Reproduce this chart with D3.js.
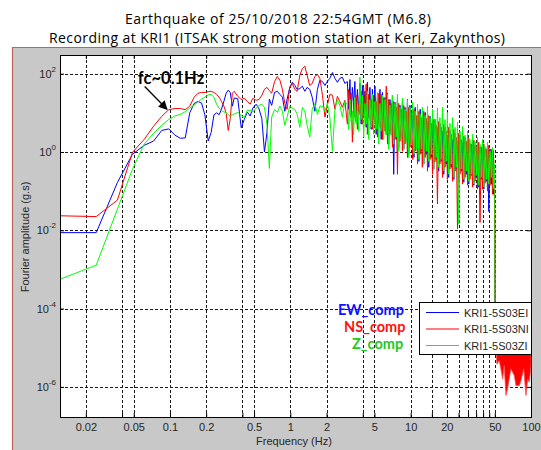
<!DOCTYPE html>
<html>
<head>
<meta charset="utf-8">
<script src="https://cdn.jsdelivr.net/npm/d3@7"></script>
<style>
body { margin: 0; background: #fff; }
svg { display: block; }
</style>
</head>
<body>
<script>
// frequency bins (Hz) shared by the three components
var freq = [0.0122, 0.0244, 0.0366, 0.0488, 0.061, 0.0732, 0.0854, 0.0977, 0.110, 0.122,
    0.134, 0.146, 0.159, 0.171, 0.183, 0.195, 0.208, 0.220, 0.232, 0.244,
    0.256, 0.268, 0.281, 0.293, 0.305, 0.317, 0.330, 0.342, 0.366, 0.391,
    0.415, 0.439, 0.464, 0.488, 0.52, 0.55, 0.58, 0.61, 0.64, 0.67,
    0.70, 0.74, 0.78, 0.82, 0.86, 0.90, 0.94, 0.99, 1.04, 1.09,
    1.14, 1.20, 1.26, 1.32, 1.38, 1.45, 1.52, 1.60, 1.68, 1.76,
    1.85, 1.94, 2.03, 2.13, 2.24, 2.35, 2.46, 2.58, 2.71, 2.84,
    2.98, 3.13, 3.28, 3.44, 3.61, 3.79, 3.97, 4.17, 4.37, 4.59,
    4.81, 5.05, 5.30, 5.56, 5.83, 6.12, 6.42, 6.73, 7.06, 7.41,
    7.77, 8.15, 8.55, 8.97, 9.41, 9.87, 10.4, 10.9, 11.4, 12.0,
    12.5, 13.2, 13.8, 14.5, 15.2, 15.9, 16.7, 17.5, 18.4, 19.3,
    20.2, 21.2, 22.3, 23.4, 24.5, 25.7, 27.0, 28.3, 29.7, 31.1,
    32.7, 34.3, 35.9, 37.7, 39.6, 41.5, 43.5, 45.7, 47.9, 49.5,
    50.0, 50.3];

// log10 of Fourier amplitude (g.s) at those bins
var ewLog = [-2.06, -2.06, -0.78, -0.06, 0.17, 0.28, 0.55, 0.59, 0.43, 0.35,
    0.36, 1.00, 1.24, 1.29, 1.25, 0.95, 0.28, 0.50, 0.95, 1.00,
    0.95, 1.09, 1.30, 1.50, 1.58, 1.52, 1.17, 1.38, 1.36, 0.62,
    0.83, 1.02, 0.92, 1.12, 1.22, 1.10, 0.85, 0.00, 0.50, 1.35,
    1.19, 1.52, 1.55, 1.47, 1.40, 1.04, 1.34, 1.65, 1.78, 1.70,
    1.60, 1.62, 1.68, 1.55, 1.65, 1.60, 1.40, 1.04, 1.60, 1.83,
    1.80, 1.70, 1.80, 1.88, 2.03, 1.88, 1.78, 1.88, 1.91, 1.75,
    1.80, 1.85, 1.65, 1.80, 1.60, 1.75, 1.70, 1.55, 1.78, 1.65,
    1.60, 1.68, 1.47, 1.60, 1.52, 1.39, 1.50, 1.34, 1.45, 1.27,
    1.34, 1.19, 1.32, 1.14, 1.34, 1.19, 1.04, 1.14, 0.93, 1.09,
    0.88, 1.01, 0.78, 0.91, 0.73, 0.83, 0.63, 0.73, 0.53, 0.63,
    0.43, 0.55, 0.32, 0.48, 0.27, 0.43, 0.25, 0.37, 0.40, 0.22,
    0.32, 0.17, 0.27, 0.14, 0.25, 0.09, 0.17, 0.07, -0.01, -0.31,
    -2.05, -4.65];

var nsLog = [-1.63, -1.65, -1.23, -0.01, 0.32, 0.66, 0.91, 1.08, 1.11, 1.11,
    1.08, 1.17, 1.40, 1.50, 1.52, 1.52, 1.54, 1.55, 1.52, 1.47,
    1.40, 1.29, 1.17, 0.99, 0.55, 0.85, 1.50, 1.55, 1.42, 1.34,
    1.37, 1.29, 1.22, 1.37, 1.32, 1.34, 1.45, 1.60, 1.65, 1.57,
    1.50, 1.80, 1.93, 1.83, 1.60, 1.24, 1.09, 1.65, 1.75, 1.60,
    1.55, 1.96, 2.13, 2.19, 1.96, 1.70, 1.75, 1.93, 1.98, 1.88,
    1.45, 0.89, 1.19, 1.47, 1.45, 1.09, 1.42, 1.29, 1.14, 1.32,
    0.71, 0.96, 0.25, 0.88, 0.58, 0.96, 0.71, 0.88, 0.45, 0.83,
    0.58, 0.71, 0.38, 0.63, 0.32, 0.53, 0.20, 0.45, 0.12, 0.32,
    -0.57, 0.27, 0.02, 0.20, -0.14, 0.12, -0.19, 0.02, -0.31, -0.06,
    -0.39, -0.14, -0.49, -0.19, -0.57, -0.26, -1.33, -0.31, -0.65, -0.39,
    -0.70, -0.44, -0.75, -0.49, -1.97, -0.57, -0.82, -0.65, -0.85, -0.70,
    -0.90, -0.75, -0.95, -1.80, -0.95, -0.80, -1.00, -0.85, -1.08, -0.57,
    -2.41, -4.65];

var zLog = [-3.25, -2.89, -1.46, -0.44, 0.20, 0.48, 0.68, 0.83, 0.92, 0.96,
    1.03, 1.12, 1.20, 1.28, 1.35, 1.40, 1.46, 1.47, 1.40, 1.22,
    1.12, 1.06, 1.02, 1.01, 0.95, 0.92, 0.95, 0.97, 1.01, 0.93,
    0.88, 1.07, 1.06, 1.02, 1.12, 1.19, 1.22, 1.14, 0.70, -0.42,
    0.89, 1.09, 1.01, 1.17, 1.04, 0.68, 0.89, 1.17, 1.11, 1.09,
    0.96, 0.63, 1.14, 1.04, 0.68, 0.38, 1.09, 1.24, 0.96, 1.17,
    1.17, 1.04, 1.24, 0.89, 0.02, 1.09, 1.34, 1.19, 0.89, 1.29,
    1.22, 1.34, 1.04, 1.39, 1.14, 1.91, 1.45, 1.24, 1.55, 1.34,
    1.47, 1.29, 1.52, 1.24, 1.45, 1.34, 1.47, 1.19, 1.45, 1.24,
    1.47, 1.14, 1.37, 1.09, 1.32, 1.14, 1.27, 1.04, 1.22, 0.96,
    1.14, 0.93, 1.17, 0.88, 1.09, 0.83, 1.12, 0.88, 1.14, 0.83,
    1.01, 0.73, 0.88, 0.63, 0.76, 0.53, 0.65, 0.43, 0.53, 0.32,
    0.45, 0.27, 0.37, 0.20, 0.32, 0.14, 0.25, 0.02, 0.12, -0.31,
    -0.95, -4.52];

// extra bins between 3 and 49 Hz, where the spectra swing between peaks and troughs
var freqMid = [3.05, 3.20, 3.36, 3.52, 3.70, 3.88, 4.07, 4.27, 4.48, 4.70,
    4.93, 5.17, 5.43, 5.69, 5.97, 6.27, 6.57, 6.89, 7.23, 7.59,
    7.96, 8.35, 8.76, 9.19, 9.64, 10.1, 10.65, 11.15, 11.7, 12.25,
    12.85, 13.5, 14.15, 14.85, 15.55, 16.3, 17.1, 17.95, 18.85, 19.75,
    20.7, 21.75, 22.85, 23.95, 25.1, 26.35, 27.65, 29.0, 30.4, 31.9,
    33.5, 35.1, 36.8, 38.65, 40.55, 42.5, 44.6, 46.8, 48.7];

var ewMidLog = [1.09, 0.88, 1.22, 0.78, 1.04, 0.71, 0.96, 0.63, 0.88, 0.58,
    0.83, 0.45, 0.71, 0.32, 0.63, 0.45, 0.20, 0.53, -0.57, 0.32,
    0.12, 0.38, 0.07, 0.27, -0.06, 0.20, -0.14, 0.07, -0.24, 0.02,
    -0.31, -0.06, -0.39, -0.14, -0.44, -0.19, -0.49, -0.24, -0.57, -0.31,
    -0.65, -0.39, -0.70, -0.44, -0.75, -0.49, -0.77, -0.57, -0.82, -0.60,
    -0.85, -0.65, -0.90, -0.70, -0.95, -0.75, -1.52, -0.82, -1.08];

var nsMidLog = [1.60, 1.50, 1.34, 1.45, 1.22, 1.55, 1.65, 1.73, 1.47, 1.34,
    1.45, 1.29, 1.50, 1.47, 1.39, 1.68, 1.34, 1.24, 1.29, 1.14,
    1.24, 1.09, 1.19, 1.04, 1.14, 0.99, 1.09, 0.93, 1.04, 0.88,
    1.04, 0.86, 0.93, 0.73, 0.83, 0.68, 0.78, 0.63, 0.71, 0.53,
    0.63, 0.45, 0.58, 0.37, 0.48, 0.32, 0.40, 0.27, 0.35, 0.20,
    0.30, 0.14, 0.25, 0.12, 0.20, 0.07, 0.17, 0.07, 0.04];

var zMidLog = [0.58, 0.78, 0.45, 0.71, 0.53, 0.83, 0.38, 0.71, 0.32, 0.63,
    0.45, 0.58, 0.20, 0.53, 0.32, 0.45, 0.07, 0.43, 0.20, 0.38,
    0.02, 0.32, 0.07, 0.25, -0.14, 0.20, -0.06, 0.07, -0.19, 0.07,
    -0.31, 0.02, -0.24, -0.06, -0.44, -0.14, -0.39, -0.19, -0.49, -0.24,
    -0.57, -0.31, -0.65, -0.39, -1.85, -0.44, -0.70, -0.49, -0.75, -0.57,
    -0.82, -0.60, -0.85, -0.65, -0.90, -0.70, -0.82, -0.65, -0.95];

// NS component above 50 Hz: dense oscillation, drawn as a band
var tailFreq = [50.3, 52.1, 54.4, 56.2, 58.1, 59.9, 61.9, 63.9, 68.1, 72.6, 75.0, 79.9, 82.5, 87.0, 90.9, 93.9, 96.8, 100];
var tailLowLog = [-4.65, -5.42, -5.33, -5.54, -5.80, -5.46, -6.22, -6.05, -5.54, -5.71, -5.97, -5.97, -5.84, -5.54, -6.22, -5.80, -5.88, -5.46];
var tailTopLog = -4.6;

var xGrid = [0.02, 0.04, 0.05, 0.1, 0.2, 0.4, 0.5, 1, 2, 4, 5, 10, 15, 20, 25, 30, 35, 40, 45, 50];
var xLabels = [0.02, 0.05, 0.1, 0.2, 0.5, 1, 2, 5, 10, 20, 50, 100];
var yDecades = [2, 0, -2, -4, -6];
var legendNames = ["KRI1-5S03EI", "KRI1-5S03NI", "KRI1-5S03ZI"];
var compNames = ["EW_comp", "NS_comp", "Z_comp"];
var lineColors = ["#0000ff", "#ff0000", "#00ff00"];
var textColors = ["#1010ff", "#ff1010", "#22c822"];

var width = 541, height = 450;
var plot = {left: 60, right: 531, top: 55, bottom: 417};

var svg = d3.select("body").append("svg")
    .attr("width", width)
    .attr("height", height);

// figure background
svg.append("rect")
    .attr("x", 13).attr("y", 47)
    .attr("width", width - 13).attr("height", height - 47)
    .attr("fill", "#c8c8c8");
svg.append("path")
    .attr("d", "M12.5,450V47.5H541")
    .attr("fill", "none")
    .attr("stroke", "#b8675a")
    .attr("stroke-width", 1.2);

// title
var title = svg.append("g")
    .attr("font-family", "'Open Sans', Lato, sans-serif")
    .attr("font-size", 14)
    .attr("text-anchor", "middle");
title.append("text").attr("x", 278).attr("y", 24)
    .attr("textLength", 306).attr("lengthAdjust", "spacing")
    .text("Earthquake of 25/10/2018 22:54GMT (M6.8)");
title.append("text").attr("x", 277).attr("y", 43)
    .attr("textLength", 456).attr("lengthAdjust", "spacing")
    .text("Recording at KRI1 (ITSAK strong motion station at Keri, Zakynthos)");

var x = d3.scaleLog().domain([0.0122, 100]).range([plot.left, plot.right]);
var y = d3.scaleLog().domain([1.7e-7, 300]).range([plot.bottom, plot.top]);

svg.append("rect")
    .attr("x", plot.left).attr("y", plot.top)
    .attr("width", plot.right - plot.left).attr("height", plot.bottom - plot.top)
    .attr("fill", "#fff");

svg.append("clipPath").attr("id", "clip")
    .append("rect")
    .attr("x", plot.left).attr("y", plot.top)
    .attr("width", plot.right - plot.left).attr("height", plot.bottom - plot.top);

// dotted grid
var grid = svg.append("g")
    .attr("stroke", "#1a1a1a")
    .attr("stroke-width", 1)
    .attr("stroke-dasharray", "3,2")
    .attr("shape-rendering", "crispEdges");
grid.selectAll(".vg")
    .data(xGrid)
    .enter().append("line")
    .attr("x1", function (d) { return Math.round(x(d)) + 0.5; })
    .attr("x2", function (d) { return Math.round(x(d)) + 0.5; })
    .attr("y1", plot.top)
    .attr("y2", plot.bottom);
grid.selectAll(".hg")
    .data(yDecades)
    .enter().append("line")
    .attr("x1", plot.left)
    .attr("x2", plot.right)
    .attr("y1", function (d) { return Math.round(y(Math.pow(10, d))) + 0.5; })
    .attr("y2", function (d) { return Math.round(y(Math.pow(10, d))) + 0.5; });

// spectra: main bins plus the extra bins, in frequency order
function toPoints(logs, mids) {
    var pts = logs.map(function (v, j) { return {f: freq[j], a: Math.pow(10, v)}; })
        .concat(mids.map(function (v, j) { return {f: freqMid[j], a: Math.pow(10, v)}; }));
    return pts.sort(function (a, b) { return a.f - b.f; });
}

var series = [
    {color: lineColors[0], points: toPoints(ewLog, ewMidLog)},
    {color: lineColors[1], points: toPoints(nsLog, nsMidLog)},
    {color: lineColors[2], points: toPoints(zLog, zMidLog)}
];

var line = d3.line()
    .x(function (d) { return x(d.f); })
    .y(function (d) { return y(d.a); });

var curves = svg.append("g").attr("clip-path", "url(#clip)");

var tail = tailFreq.map(function (f, i) {
    return {f: f, lo: Math.pow(10, tailLowLog[i]), hi: Math.pow(10, tailTopLog)};
});

series.forEach(function (s, i) {
    curves.append("path")
        .datum(s.points)
        .attr("d", line)
        .attr("fill", "none")
        .attr("stroke", s.color)
        .attr("stroke-width", 1)
        .attr("stroke-linejoin", "bevel");
    if (i === 1) {
        curves.append("path")
            .datum(tail)
            .attr("d", d3.area()
                .x(function (d) { return x(d.f); })
                .y0(function (d) { return y(d.lo); })
                .y1(function (d) { return y(d.hi); }))
            .attr("fill", "#ff0000")
            .attr("stroke", "#ff5050")
            .attr("stroke-width", 0.8);
    }
});

// axes (ticks point inward, as in the original figure)
var fmtX = function (d) { return xLabels.indexOf(d) > -1 ? String(d) : ""; };
var xTicks = xGrid.concat([100]);

var xAxis = svg.append("g")
    .attr("transform", "translate(0," + plot.bottom + ")")
    .call(d3.axisBottom(x).tickValues(xTicks).tickFormat(fmtX).tickSize(-4).tickPadding(6));
svg.append("g")
    .attr("transform", "translate(0," + plot.top + ")")
    .call(d3.axisTop(x).tickValues(xTicks).tickFormat("").tickSize(-4));
var yVals = yDecades.map(function (d) { return Math.pow(10, d); });
svg.append("g")
    .attr("transform", "translate(" + plot.left + ",0)")
    .call(d3.axisLeft(y).tickValues(yVals).tickFormat("").tickSize(-4));
svg.append("g")
    .attr("transform", "translate(" + plot.right + ",0)")
    .call(d3.axisRight(y).tickValues(yVals).tickFormat("").tickSize(-4));

svg.selectAll(".domain").remove();
svg.selectAll(".tick line").attr("stroke", "#000");
xAxis.selectAll("text")
    .attr("font-family", "'Liberation Sans', Arial, sans-serif")
    .attr("font-size", 11)
    .attr("fill", "#262626");

// y tick labels: 10 with superscript exponent
var yLab = svg.append("g")
    .attr("font-family", "'Liberation Sans', Arial, sans-serif")
    .attr("fill", "#262626")
    .attr("text-anchor", "end");
yDecades.forEach(function (d) {
    var t = yLab.append("text")
        .attr("x", 56)
        .attr("y", y(Math.pow(10, d)) + 4)
        .attr("font-size", 11);
    t.append("tspan").text("10");
    t.append("tspan").attr("dy", -6).attr("font-size", 8).text(String(d));
});

// frame
svg.append("rect")
    .attr("x", plot.left + 0.5).attr("y", plot.top + 0.5)
    .attr("width", plot.right - plot.left).attr("height", plot.bottom - plot.top)
    .attr("fill", "none")
    .attr("stroke", "#000")
    .attr("stroke-width", 1);

// axis titles
svg.append("text")
    .attr("x", 294).attr("y", 445)
    .attr("text-anchor", "middle")
    .attr("font-family", "'Liberation Sans', Arial, sans-serif")
    .attr("font-size", 11)
    .attr("fill", "#262626")
    .text("Frequency (Hz)");
svg.append("text")
    .attr("transform", "translate(29,237) rotate(-90)")
    .attr("text-anchor", "middle")
    .attr("font-family", "'Liberation Sans', Arial, sans-serif")
    .attr("font-size", 11)
    .attr("fill", "#262626")
    .text("Fourier amplitude (g.s)");

// corner-frequency annotation
svg.append("defs").append("marker")
    .attr("id", "arrow")
    .attr("viewBox", "0 0 10 10")
    .attr("refX", 9).attr("refY", 5)
    .attr("markerWidth", 9).attr("markerHeight", 9)
    .attr("markerUnits", "userSpaceOnUse")
    .attr("orient", "auto")
    .append("path")
    .attr("d", "M0,0L10,5L0,10z")
    .attr("fill", "#000");
svg.append("line")
    .attr("x1", x(0.0617)).attr("y1", y(47))
    .attr("x2", x(0.0945)).attr("y2", y(12.3))
    .attr("stroke", "#000")
    .attr("stroke-width", 1.3)
    .attr("marker-end", "url(#arrow)");
svg.append("text")
    .attr("x", x(0.0541)).attr("y", y(53))
    .attr("font-family", "Lato, 'Open Sans', sans-serif")
    .attr("font-weight", "bold")
    .attr("font-size", 16.5)
    .text("fc~0.1Hz");

// component labels
var compX = [338, 344, 352];
var compY = [315, 332, 349];
svg.selectAll(".comp")
    .data(compNames)
    .enter().append("text")
    .attr("x", function (d, i) { return compX[i]; })
    .attr("y", function (d, i) { return compY[i]; })
    .attr("font-family", "Lato, 'Open Sans', sans-serif")
    .attr("font-weight", "bold")
    .attr("font-size", 14.5)
    .attr("fill", function (d, i) { return textColors[i]; })
    .text(function (d) { return d; });

// legend
var legend = svg.append("g").attr("transform", "translate(419,302)");
legend.append("rect")
    .attr("x", 0.5).attr("y", 0.5)
    .attr("width", 112).attr("height", 52)
    .attr("fill", "#fff")
    .attr("stroke", "#000")
    .attr("stroke-width", 1);
var item = legend.selectAll(".item")
    .data(legendNames)
    .enter().append("g")
    .attr("transform", function (d, i) { return "translate(0," + (10.5 + i * 16.5) + ")"; });
item.append("line")
    .attr("x1", 7).attr("x2", 40)
    .attr("stroke", function (d, i) { return lineColors[i]; })
    .attr("stroke-width", 1);
item.append("text")
    .attr("x", 45).attr("y", 4)
    .attr("font-family", "'Liberation Sans', Arial, sans-serif")
    .attr("font-size", 11)
    .attr("fill", "#262626")
    .text(function (d) { return d; });
</script>
</body>
</html>
